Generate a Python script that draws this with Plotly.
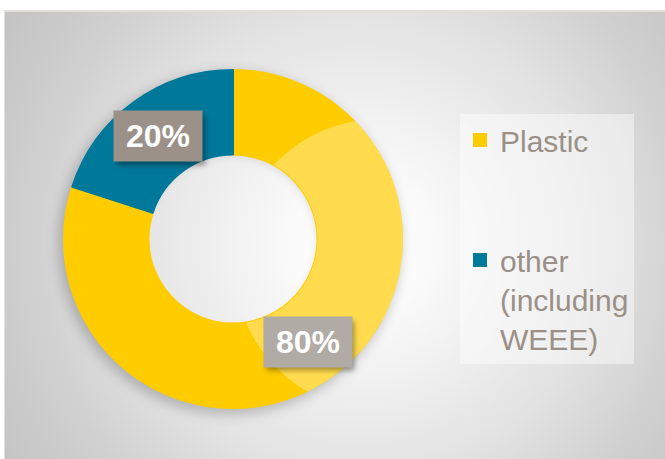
import base64
import math
import plotly.graph_objects as go

# ---- data ----
labels = ["Plastic", "other<br>(including<br>WEEE)"]
values = [80, 20]
colors = ["#FFCC00", "#00789A"]
pct_text = ["80%", "20%"]
box_colors = ["#B0ABA5", "#9B9189"]

# ---- layout constants ----
W, H = 665, 459
CX, CY, R = 233, 239, 169
HOLE = 0.5
RH = R * HOLE

legend_labels = [labels[0] + "<br>\u00a0<br>\u00a0", labels[1]]


def svg_uri(svg):
    return "data:image/svg+xml;base64," + base64.b64encode(svg.encode("utf-8")).decode("ascii")


rm = (R + RH) / 2
ring_r = (R + 3 + RH + 6) / 2
ring_w = (R + 3) - (RH + 6)
bg_svg = f'''<svg xmlns="http://www.w3.org/2000/svg" width="{W}" height="{H}" viewBox="0 0 {W} {H}">
<defs>
<radialGradient id="g" gradientUnits="userSpaceOnUse" cx="360" cy="245" r="430">
<stop offset="0" stop-color="#FFFFFF"/>
<stop offset="0.15" stop-color="#FBFBFB"/>
<stop offset="0.55" stop-color="#E2E2E2"/>
<stop offset="0.77" stop-color="#D0D0D0"/>
<stop offset="1" stop-color="#C2C2C2"/>
</radialGradient>
<filter id="b" x="-30%" y="-30%" width="160%" height="160%"><feGaussianBlur stdDeviation="6"/></filter>
</defs>
<rect width="{W}" height="{H}" fill="#FFFFFF"/>
<rect x="4" y="10" width="{W-4}" height="{H-10}" fill="#E3DFDA"/>
<rect x="5" y="12" width="{W-5}" height="{H-12}" fill="url(#g)"/>
<circle cx="{CX-3}" cy="{CY+4}" r="{ring_r}" fill="none" stroke="#000000" stroke-opacity="0.2" stroke-width="{ring_w}" filter="url(#b)"/>
</svg>'''

# label positions derived from the values (clockwise from 12 o'clock)
total = sum(values)
label_pos = []
cum = 0.0
for v in values:
    mid = (cum + v / 2) / total * 2 * math.pi
    px = CX + rm * math.sin(mid)
    py = CY - rm * math.cos(mid)
    label_pos.append((px, py))
    cum += v

BW, BH = 88, 50
shadow_rects = "".join(
    f'<rect x="{px-BW/2+3}" y="{py-BH/2+4}" width="{BW}" height="{BH}" fill="#000000" fill-opacity="0.35" filter="url(#s)"/>'
    for px, py in label_pos
)

hl_svg = f'''<svg xmlns="http://www.w3.org/2000/svg" width="{W}" height="{H}" viewBox="0 0 {W} {H}">
<defs>
<clipPath id="c"><path clip-rule="evenodd" d="M {CX-R-1},{CY} a {R+1},{R+1} 0 1,0 {2*R+2},0 a {R+1},{R+1} 0 1,0 {-2*R-2},0 Z M {CX-RH},{CY} a {RH},{RH} 0 1,0 {2*RH},0 a {RH},{RH} 0 1,0 {-2*RH},0 Z"/></clipPath>
<filter id="s" x="-30%" y="-30%" width="160%" height="160%"><feGaussianBlur stdDeviation="2.5"/></filter>
</defs>
<circle cx="{CX+147}" cy="{CY+26}" r="146" fill="#FFFFFF" fill-opacity="0.3" clip-path="url(#c)"/>
{shadow_rects}
</svg>'''

fig = go.Figure()
fig.add_trace(go.Pie(
    labels=legend_labels,
    values=values,
    hole=HOLE,
    sort=False,
    direction="clockwise",
    rotation=0,
    marker=dict(colors=colors, line=dict(width=2, color=colors)),
    textinfo="none",
    hoverinfo="percent",
    domain=dict(x=[(CX - R) / W, (CX + R) / W], y=[(H - CY - R) / H, (H - CY + R) / H]),
))

annotations = []
for (px, py), t, bc in zip(label_pos, pct_text, box_colors):
    annotations.append(dict(
        x=px / W, y=1 - py / H, xref="paper", yref="paper",
        text=t, showarrow=False, bgcolor=bc,
        width=BW - 2, height=BH - 2, borderpad=1,
        font=dict(family="Liberation Sans, Arial", size=32, color="#FFFFFF", weight="bold"),
        xanchor="center", yanchor="middle",
    ))

fig.update_layout(
    width=W, height=H,
    margin=dict(l=0, r=0, t=0, b=0),
    paper_bgcolor="#FFFFFF",
    images=[
        dict(source=svg_uri(bg_svg), xref="paper", yref="paper", x=0, y=1, sizex=1, sizey=1,
             xanchor="left", yanchor="top", sizing="stretch", layer="below"),
        dict(source=svg_uri(hl_svg), xref="paper", yref="paper", x=0, y=1, sizex=1, sizey=1,
             xanchor="left", yanchor="top", sizing="stretch", layer="above"),
    ],
    annotations=annotations,
    showlegend=True,
    legend=dict(
        x=460 / W, y=1 - 114 / H, xanchor="left", yanchor="top",
        bgcolor="rgba(255,255,255,0.45)",
        font=dict(family="Liberation Sans, Arial", size=30, color="#9A9088"),
        valign="top",
        itemclick=False, itemdoubleclick=False,
    ),
)

fig.write_html("out.html")
